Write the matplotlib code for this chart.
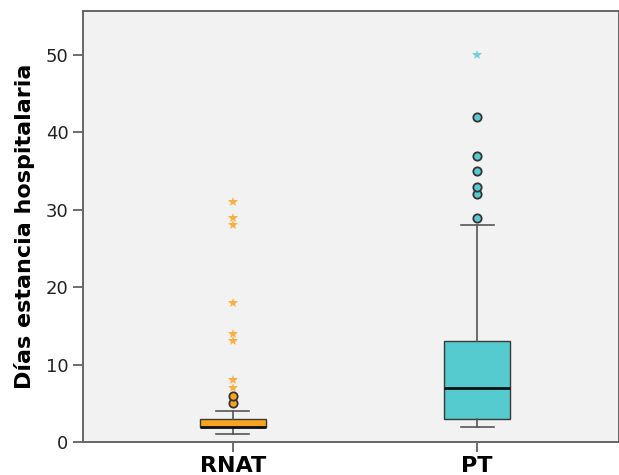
import matplotlib
matplotlib.use("Agg")
import matplotlib.pyplot as plt

# Hospital stay (days) by group
groups = ["RNAT", "PT"]
q1 = [2, 3]
medians = [2, 7]
q3 = [3, 13]
whisker_low = [1, 2]
whisker_high = [4, 28]
outliers = [[5, 6], [29, 32, 33, 35, 37, 42]]
extremes = [[7, 8, 13, 14, 18, 28, 29, 31], [50]]

face_colors = ["#F8A41E", "#55CACF"]
star_colors = ["#F9B040", "#6FD3D6"]

fig = plt.figure(figsize=(6.19, 4.75), dpi=100)
fig.patch.set_facecolor("white")
ax = fig.add_axes([83 / 619, 33 / 475, 1 - 83 / 619, (442 - 11) / 475])
ax.set_facecolor("#F2F2F2")

positions = [1, 2]
stats = []
for i, g in enumerate(groups):
    stats.append(dict(label=g, q1=q1[i], med=medians[i], q3=q3[i],
                      whislo=whisker_low[i], whishi=whisker_high[i],
                      fliers=outliers[i]))

bp = ax.bxp(stats, positions=positions, widths=0.27, patch_artist=True,
            showfliers=True,
            boxprops=dict(edgecolor="#3a3a3a", linewidth=1.0),
            medianprops=dict(color="#111111", linewidth=2.0),
            whiskerprops=dict(color="#555555", linewidth=1.2),
            capprops=dict(color="#555555", linewidth=1.2),
            capwidths=0.135,
            flierprops=dict(marker="o", markersize=6, markeredgecolor="#333333",
                            markeredgewidth=1.3))
for patch, fc in zip(bp["boxes"], face_colors):
    patch.set_facecolor(fc)
for fl, fc in zip(bp["fliers"], face_colors):
    fl.set_markerfacecolor(fc)

for pos, ext, sc in zip(positions, extremes, star_colors):
    ax.plot([pos] * len(ext), ext, linestyle="none", marker="*",
            markersize=7, color=sc, markeredgewidth=0)

ax.set_xlim(0.388, 2.58)
ax.set_ylim(0, 55.7)
ax.set_yticks([0, 10, 20, 30, 40, 50])
ax.set_xticks(positions)
ax.set_xticklabels(groups, fontsize=16, fontweight="bold")
ax.tick_params(axis="y", labelsize=13, length=7, width=1.2, color="#555555",
               labelcolor="#222222")
ax.tick_params(axis="x", length=7, width=1.2, color="#555555", pad=3)
ax.set_ylabel("Días estancia hospitalaria", fontsize=16, fontweight="bold",
              labelpad=8)

for side in ["left", "bottom", "top", "right"]:
    ax.spines[side].set_color("#666666")
    ax.spines[side].set_linewidth(1.4)

fig.savefig("out.png", dpi=100)
